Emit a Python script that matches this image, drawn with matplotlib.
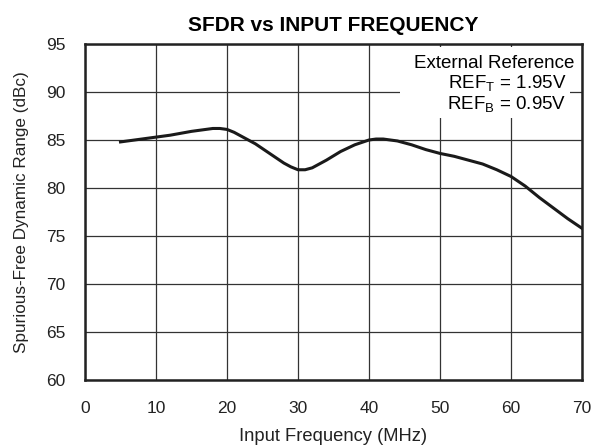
import numpy as np
import matplotlib
matplotlib.use('Agg')
import matplotlib.pyplot as plt
from matplotlib.patches import Rectangle

plt.rcParams['font.family'] = ['Liberation Sans', 'DejaVu Sans']
plt.rcParams['mathtext.fontset'] = 'custom'
plt.rcParams['mathtext.rm'] = 'Liberation Sans'

# SFDR DATA -------------------------------------------------------------------
freq_mhz = [5, 7, 10, 12, 15, 17, 18, 19, 20, 21, 22, 24, 26, 28, 29, 30, 31,
            32, 34, 36, 38, 40, 41, 42, 44, 46, 48, 50, 52, 54, 56, 58, 60,
            62, 64, 66, 68, 70]
sfdr_dbc = [84.8, 85.0, 85.3, 85.5, 85.9, 86.1, 86.2, 86.2, 86.1, 85.8, 85.4,
            84.6, 83.6, 82.6, 82.2, 81.9, 81.9, 82.1, 82.9, 83.8, 84.5, 85.0,
            85.1, 85.1, 84.9, 84.5, 84.0, 83.6, 83.3, 82.9, 82.5, 81.9, 81.2,
            80.2, 79.0, 77.9, 76.8, 75.8]

x_ticks = [0, 10, 20, 30, 40, 50, 60, 70]
y_ticks = [60, 65, 70, 75, 80, 85, 90, 95]

fig = plt.figure(figsize=(5.92, 4.48), dpi=100)
ax = fig.add_axes([0.1436, 0.1518, 0.8395, 0.75])

ax.plot(freq_mhz, sfdr_dbc, color='#1a1a1a', linewidth=2.2, zorder=4,
        solid_joinstyle='round')

ax.set_xlim(0, 70)
ax.set_ylim(60, 95)
ax.set_xticks(x_ticks)
ax.set_yticks(y_ticks)
ax.tick_params(length=0, labelsize=12.5, colors='#222222')
ax.tick_params(axis='y', pad=14)
ax.tick_params(axis='x', pad=15)
ax.grid(True, color='#333333', linewidth=0.9)
ax.set_axisbelow(True)
for s in ax.spines.values():
    s.set_linewidth(1.8)
    s.set_color('#222222')

ax.set_title('SFDR vs INPUT FREQUENCY', fontsize=15, fontweight='bold', pad=9)
ax.set_xlabel('Input Frequency (MHz)', fontsize=13.2, labelpad=9, color='#222222')
ax.set_ylabel('Spurious-Free Dynamic Range (dBc)', fontsize=12.3, labelpad=12,
              color='#222222')

# white patch behind the reference annotation
ax.add_patch(Rectangle((44.3, 87.25), 24.0, 7.45, facecolor='white',
                       edgecolor='none', zorder=2))
ax.text(68.9, 93.0, 'External Reference', ha='right', va='center',
        fontsize=13.5, zorder=5)
ax.text(67.8, 90.85, r'REF$_\mathrm{T}$ = 1.95V', ha='right', va='center',
        fontsize=13.5, zorder=5)
ax.text(67.8, 88.7, r'REF$_\mathrm{B}$ = 0.95V', ha='right', va='center',
        fontsize=13.5, zorder=5)

fig.savefig('out.png', dpi=100)
